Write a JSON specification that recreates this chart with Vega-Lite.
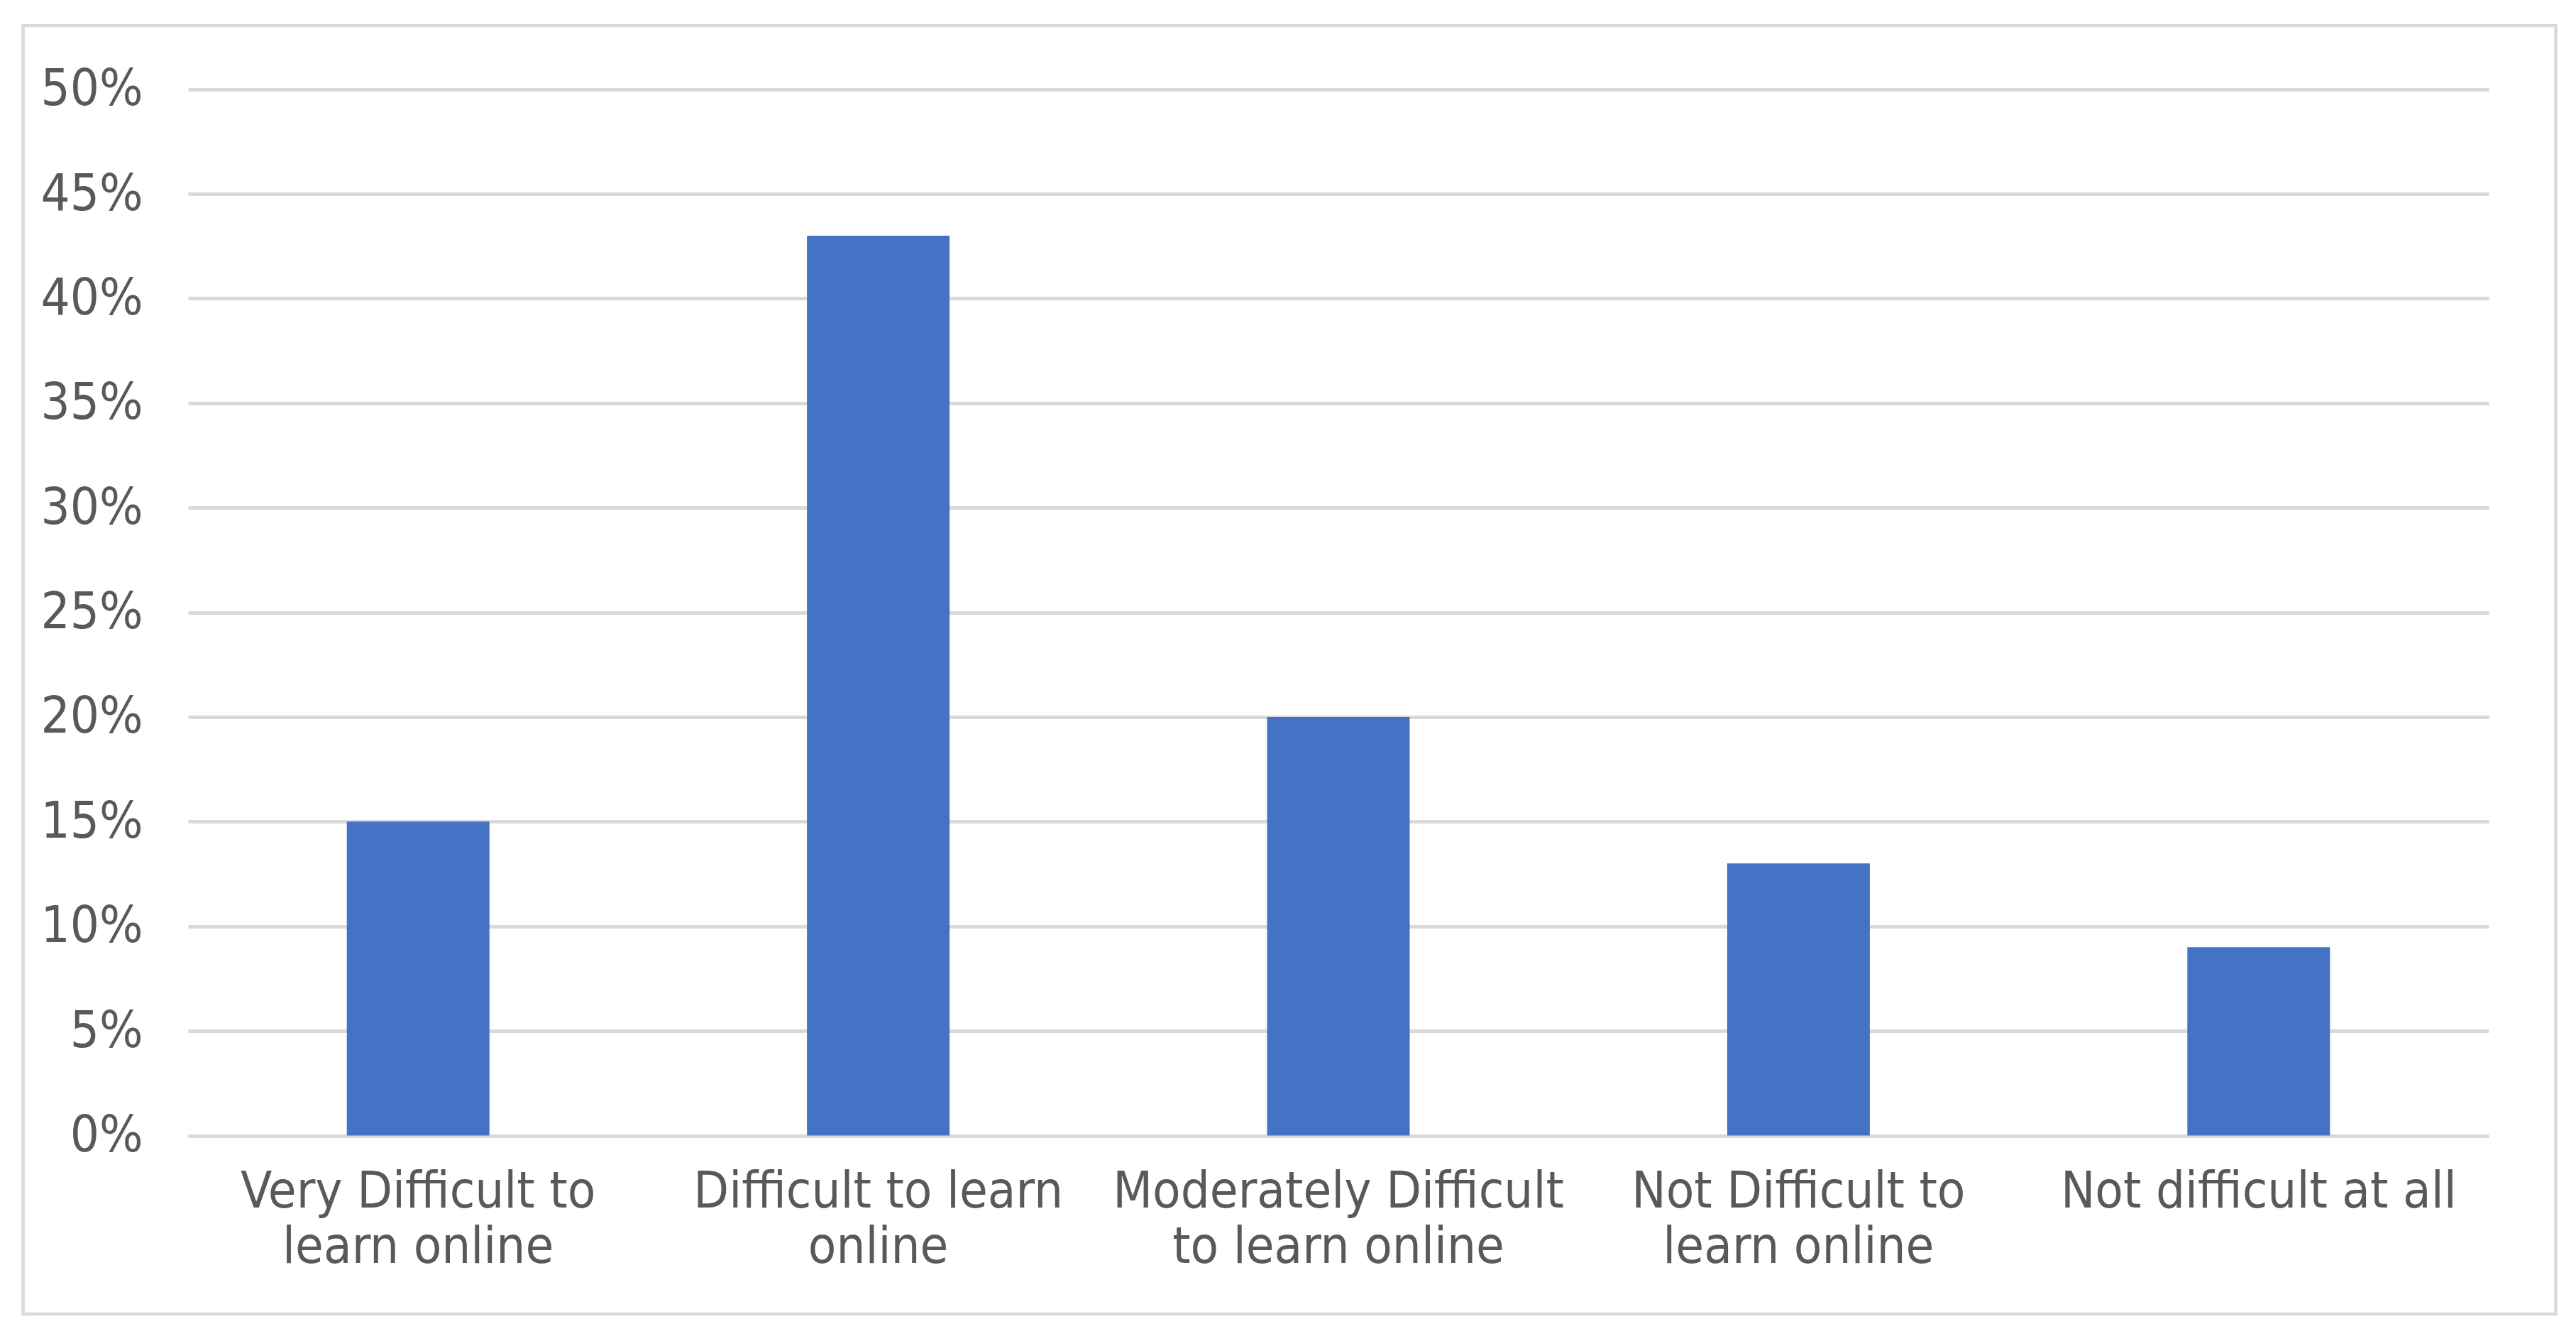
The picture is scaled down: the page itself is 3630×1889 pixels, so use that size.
{
  "$schema": "https://vega.github.io/schema/vega-lite/v6.json",
  "autosize": {"type": "none"},
  "width": 3569,
  "height": 1815,
  "padding": {"left": 32.5, "top": 36, "right": 28.5, "bottom": 38},
  "background": "#ffffff",
  "config": {
    "view": {"stroke": "#d9d9d9", "strokeWidth": 4.5, "fill": "#ffffff"},
    "font": "Liberation Sans Narrow, DejaVu Sans Condensed, sans-serif"
  },
  "data": {
    "values": [
      {"category": "Very Difficult to learn online", "share": 0.15},
      {"category": "Difficult to learn online", "share": 0.43},
      {"category": "Moderately Difficult to learn online", "share": 0.20},
      {"category": "Not Difficult to learn online", "share": 0.13},
      {"category": "Not difficult at all", "share": 0.09}
    ]
  },
  "mark": {"type": "bar", "color": "#4472C4"},
  "encoding": {
    "x": {
      "field": "category",
      "type": "nominal",
      "sort": null,
      "scale": {"range": [232.5, 3474.5], "paddingInner": 0.69, "paddingOuter": 0.345},
      "axis": {
        "title": null,
        "domain": false,
        "ticks": false,
        "tickSize": 0,
        "grid": false,
        "labelAngle": 0,
        "labelAlign": "center",
        "labelBaseline": "top",
        "labelPadding": -208,
        "labelFontSize": 72,
        "labelLineHeight": 78,
        "labelColor": "#595959",
        "labelLimit": 2000,
        "labelFont": "Liberation Sans Narrow, DejaVu Sans Condensed, sans-serif",
        "labelExpr": "datum.value == 'Very Difficult to learn online' ? ['Very Difficult to', 'learn online'] : datum.value == 'Difficult to learn online' ? ['Difficult to learn', 'online'] : datum.value == 'Moderately Difficult to learn online' ? ['Moderately Difficult', 'to learn online'] : datum.value == 'Not Difficult to learn online' ? ['Not Difficult to', 'learn online'] : datum.value"
      }
    },
    "y": {
      "field": "share",
      "type": "quantitative",
      "scale": {"domain": [0, 0.5], "range": [1563.5, 89.7], "nice": false, "zero": true},
      "axis": {
        "title": null,
        "domain": false,
        "ticks": false,
        "tickSize": 0,
        "values": [0, 0.05, 0.1, 0.15, 0.2, 0.25, 0.3, 0.35, 0.4, 0.45, 0.5],
        "format": ".0%",
        "grid": true,
        "gridColor": "#d9d9d9",
        "gridWidth": 5,
        "labelAlign": "right",
        "labelBaseline": "middle",
        "labelPadding": -168.5,
        "labelFontSize": 72,
        "labelColor": "#595959",
        "labelFont": "Liberation Sans Narrow, DejaVu Sans Condensed, sans-serif"
      }
    }
  }
}
